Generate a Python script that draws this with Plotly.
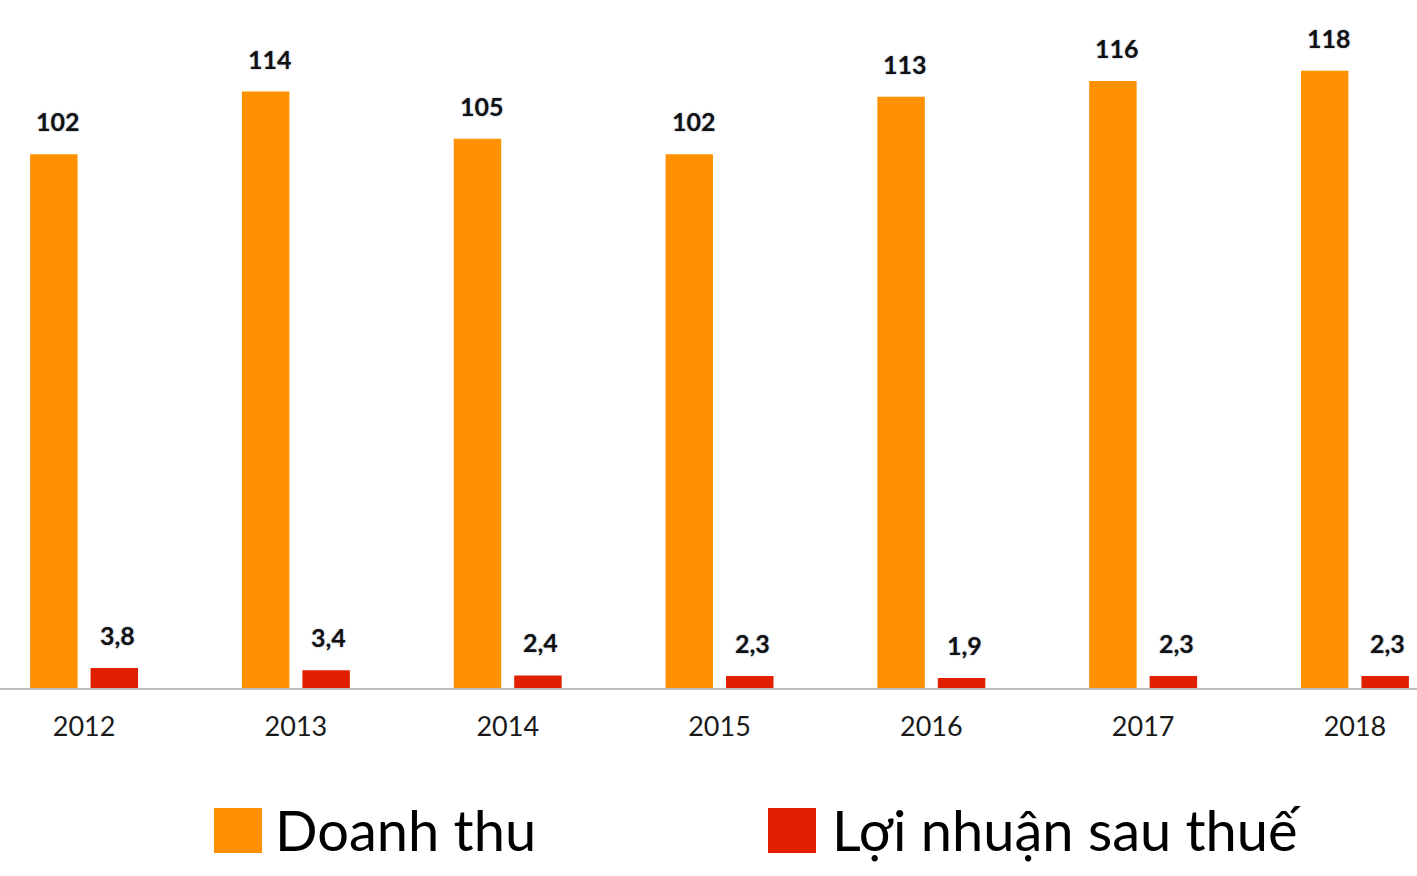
import plotly.graph_objects as go

# Revenue vs. profit after tax, 2012-2018
years = ['2012', '2013', '2014', '2015', '2016', '2017', '2018']
doanh_thu = [102, 114, 105, 102, 113, 116, 118]
loi_nhuan = [3.8, 3.4, 2.4, 2.3, 1.9, 2.3, 2.3]
loi_nhuan_labels = ['3,8', '3,4', '2,4', '2,3', '1,9', '2,3', '2,3']

series_names = ['Doanh thu', 'Lợi nhuận sau thuế']
colors = ['#FF9100', '#E02000']

fig = go.Figure()
fig.add_trace(go.Bar(x=years, y=doanh_thu, name=series_names[0],
                     marker=dict(color=colors[0], line=dict(width=0))))
fig.add_trace(go.Bar(x=years, y=loi_nhuan, name=series_names[1],
                     marker=dict(color=colors[1], line=dict(width=0))))

label_font = dict(family='Lato, Open Sans, sans-serif', size=25, color='#111111',
                  weight='bold', shadow='0px 0px 2px rgba(40,60,120,0.45)')

# value labels above the bars (category index used as x)
for i, v in enumerate(doanh_thu):
    fig.add_annotation(x=i, y=v, text=str(v), showarrow=False, yanchor='bottom',
                       xshift=-26, yshift=16, font=label_font)
for i, (v, t) in enumerate(zip(loi_nhuan, loi_nhuan_labels)):
    fig.add_annotation(x=i, y=v, text=t, showarrow=False, yanchor='bottom',
                       xshift=33, yshift=16, font=label_font)

# big legend drawn below the axis
W, PH = 1417, 688
legend_items = [(214, 262, 273), (768, 816, 830)]
for (x0, x1, tx), name, col in zip(legend_items, series_names, colors):
    fig.add_shape(type='rect', xref='paper', yref='paper',
                  x0=x0 / W, x1=x1 / W, y0=(PH - 853) / PH, y1=(PH - 808) / PH,
                  fillcolor=col, line=dict(width=0))
    fig.add_annotation(xref='paper', yref='paper', x=tx / W, y=(PH - 829) / PH,
                       text=name, showarrow=False, xanchor='left', yanchor='middle',
                       font=dict(family='Lato, Open Sans, sans-serif', size=56, color='#000000'))

fig.update_layout(
    width=1417, height=876,
    margin=dict(l=0, r=0, t=0, b=188),
    barmode='group', bargap=0.429, bargroupgap=0.215,
    plot_bgcolor='white', paper_bgcolor='white',
    showlegend=False,
    xaxis=dict(type='category', range=[-0.397, 6.293], showgrid=False,
               showline=True, linecolor='#BDBDBD', linewidth=2,
               ticks='outside', ticklen=14, tickcolor='rgba(0,0,0,0)',
               tickfont=dict(family='Lato, Open Sans, sans-serif', size=27, color='#1A1A1A')),
    yaxis=dict(range=[0, 131.5], visible=False, showgrid=False, zeroline=False),
)

fig.write_html('out.html', config={'displayModeBar': False},
               post_script="document.body.style.margin='0';")
